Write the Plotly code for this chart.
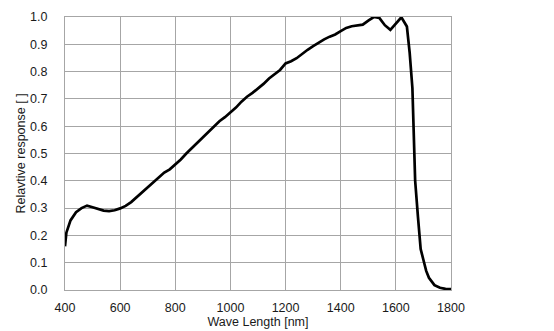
import plotly.graph_objects as go

# Relative spectral response of the sensor
wavelength_nm = [400, 405, 420, 440, 460, 480, 500, 520, 540, 560, 580, 600, 620, 640, 660,
                 680, 700, 720, 740, 760, 780, 800, 820, 840, 860, 880, 900, 920, 940, 960,
                 980, 1000, 1020, 1040, 1060, 1080, 1100, 1120, 1140, 1160, 1180, 1200, 1220,
                 1240, 1260, 1280, 1300, 1320, 1340, 1360, 1380, 1400, 1420, 1440, 1460, 1480,
                 1500, 1520, 1540, 1560, 1580, 1600, 1620, 1640, 1650, 1660, 1670, 1680, 1690,
                 1700, 1710, 1720, 1740, 1760, 1780, 1800]
response = [0.16, 0.21, 0.255, 0.285, 0.300, 0.309, 0.303, 0.296, 0.291, 0.289, 0.292, 0.299,
            0.308, 0.322, 0.340, 0.357, 0.375, 0.393, 0.412, 0.430, 0.442, 0.460, 0.478, 0.500,
            0.520, 0.540, 0.558, 0.580, 0.600, 0.618, 0.633, 0.649, 0.668, 0.690, 0.708, 0.722,
            0.737, 0.755, 0.775, 0.790, 0.806, 0.830, 0.838, 0.849, 0.865, 0.880, 0.893, 0.907,
            0.918, 0.928, 0.936, 0.948, 0.960, 0.966, 0.968, 0.972, 0.987, 1.000, 0.997, 0.970,
            0.953, 0.975, 0.999, 0.965, 0.870, 0.740, 0.400, 0.270, 0.150, 0.110, 0.070, 0.045,
            0.018, 0.008, 0.004, 0.003]

x_ticks = [400, 600, 800, 1000, 1200, 1400, 1600, 1800]
y_ticks = [0.0, 0.1, 0.2, 0.3, 0.4, 0.5, 0.6, 0.7, 0.8, 0.9, 1.0]

grid = "#a6a6a6"
font = dict(family="Liberation Sans, Arial, sans-serif", size=12.5, color="#1a1a1a")

fig = go.Figure(go.Scatter(
    x=wavelength_nm, y=response, mode="lines",
    line=dict(color="black", width=2.7), showlegend=False,
))

fig.update_layout(
    width=554, height=331,
    margin=dict(l=65, r=103, t=17, b=40.5),
    paper_bgcolor="white", plot_bgcolor="white",
    font=font,
    xaxis=dict(
        range=[400, 1800], tickvals=x_ticks, ticktext=[str(v) for v in x_ticks],
        showgrid=True, gridcolor=grid, gridwidth=1,
        showline=True, linecolor=grid, linewidth=1, mirror=True,
        zeroline=False, ticks="", ticklabelstandoff=6, automargin=False,
        title=dict(text="Wave Length [nm]", standoff=3, font=dict(size=12.5)),
    ),
    yaxis=dict(
        range=[0, 1.0], tickvals=y_ticks, ticktext=[f"{v:.1f}" for v in y_ticks],
        showgrid=True, gridcolor=grid, gridwidth=1,
        showline=True, linecolor=grid, linewidth=1, mirror=True,
        zeroline=False, ticks="", ticklabelstandoff=14, automargin=False,
        title=dict(text="Relavtive response [ ]", standoff=1, font=dict(size=12.5)),
    ),
)

fig.write_html("out.html")
